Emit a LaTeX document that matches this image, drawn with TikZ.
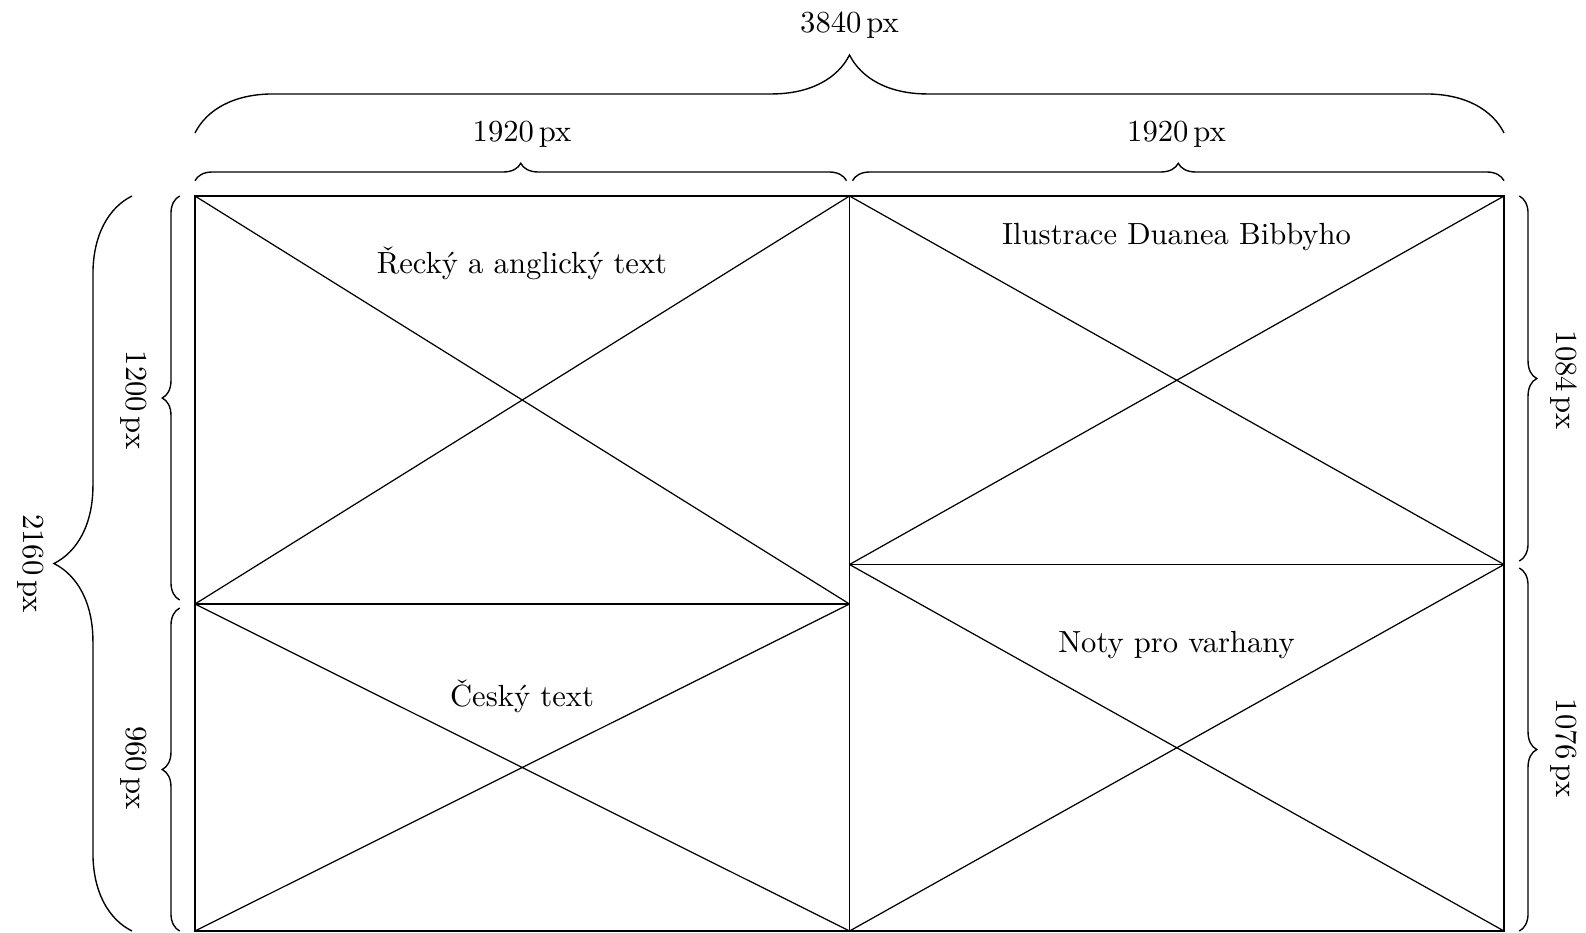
\documentclass[tikz,border=0pt]{standalone}
\usetikzlibrary{decorations.pathreplacing,calc}
\begin{document}
\begin{tikzpicture}[x=0.3268pt,y=-0.3268pt,
  frame/.style={line width=0.8pt},
  thinline/.style={line width=0.4pt},
  bigbrace/.style={decorate,decoration={brace,amplitude=25.5pt,raise=20.6pt},line width=0.45pt},
  smallbrace/.style={decorate,decoration={brace,amplitude=5.7pt,raise=5pt},line width=0.45pt},
  lab/.style={inner sep=0pt,font=\normalsize},
  vlab/.style={inner sep=0pt,font=\normalsize,rotate=-90}]
\useasboundingbox (0,0) rectangle (1586,932);
% corner and split points
\coordinate (TL) at (195,196);
\coordinate (TR) at (1504,196);
\coordinate (BL) at (195,931);
\coordinate (BR) at (1504,931);
\coordinate (TM) at (849.5,196);
\coordinate (BM) at (849.5,931);
\coordinate (LM) at (195,604);
\coordinate (CL) at (849.5,604);
\coordinate (CR) at (849.5,564.5);
\coordinate (RM) at (1504,564.5);
% inner lines
\draw[thinline] (TM) -- (BM);
\draw[thinline] (LM) -- (CL);
\draw[thinline] (CR) -- (RM);
\draw[thinline] (TL) -- (CL) (LM) -- (TM);
\draw[thinline] (LM) -- (BM) (BL) -- (CL);
\draw[thinline] (TM) -- (RM) (CR) -- (TR);
\draw[thinline] (CR) -- (BR) (BM) -- (RM);
% frame
\draw[frame] (TL) rectangle (BR);
% braces
\draw[bigbrace] (TL) -- (TR);
\draw[smallbrace] (TL) -- ($(TM)+(-3,0)$);
\draw[smallbrace] ($(TM)+(3,0)$) -- (TR);
\draw[bigbrace] (BL) -- (TL);
\draw[smallbrace] ($(LM)+(0,-4)$) -- (TL);
\draw[smallbrace] (BL) -- ($(LM)+(0,4)$);
\draw[smallbrace] (TR) -- ($(RM)+(0,-3.5)$);
\draw[smallbrace] ($(RM)+(0,3.5)$) -- (BR);
% dimension labels
\node[lab,anchor=base] (wall) at (849.5,32.5) {3840\,px};
\node[lab,anchor=base] (wl) at (522,141.6) {1920\,px};
\node[lab,anchor=base] (wr) at (1176.5,141.6) {1920\,px};
\node[vlab] (hall) at (31,563.5) {2160\,px};
\node[vlab] (hlt) at (133.5,400) {1200\,px};
\node[vlab] (hlb) at (133.5,768) {960\,px};
\node[vlab] (hrt) at (1564,380) {1084\,px};
\node[vlab] (hrb) at (1564,748) {1076\,px};
% cell labels
\node[lab,anchor=base] (greek) at (522,273) {Řecký a anglický text};
\node[lab,anchor=base] (czech) at (522,706) {Český text};
\node[lab,anchor=base] (ill) at (1176.5,244) {Ilustrace Duanea Bibbyho};
\node[lab,anchor=base] (org) at (1176.5,652) {Noty pro varhany};
\end{tikzpicture}
\end{document}
